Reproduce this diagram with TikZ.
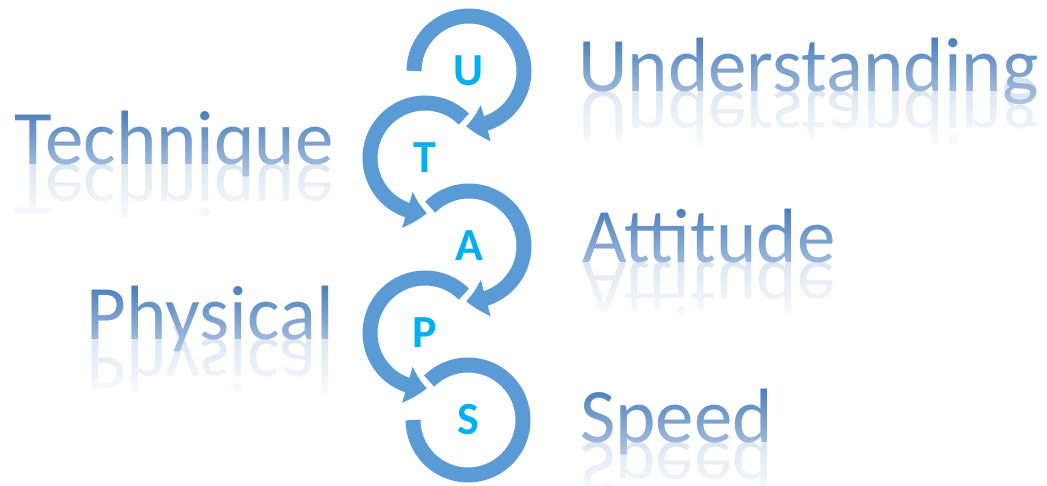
\documentclass[tikz,border=0pt]{standalone}
\usepackage{fontspec}
\setmainfont{Carlito}
\usetikzlibrary{arrows.meta,fadings,bending}
\definecolor{ring}{HTML}{5B9BD5}
\definecolor{letter}{HTML}{00B0F0}
\definecolor{word}{HTML}{3D75B8}
\tikzfading[name=wordfade, top color=transparent!100, middle color=transparent!65, bottom color=transparent!0]
\begin{document}
\begin{tikzpicture}[x=1pt,y=1pt,
  ringarc/.style={draw=ring, line width=15pt},
  ringarrow/.style={ringarc, -{Triangle[width=36pt,length=20pt,bend]}},
  letterlbl/.style={font=\bfseries\fontsize{46}{46}\selectfont, text=letter, inner sep=0pt},
  wordlbl/.style={font=\fontsize{77}{77}\selectfont, text=word, inner sep=0pt},
  refllbl/.style={wordlbl, opacity=0.35, transform shape},
  fadebox/.style={fill=white, path fading=wordfade}]
\useasboundingbox (0,0) rectangle (1047,486);
% circle centres
\coordinate (cU) at (469,415);
\coordinate (cT) at (425,328);
\coordinate (cA) at (469,240);
\coordinate (cP) at (425,153);
\coordinate (cS) at (468,66);
% arcs
\draw[ringarrow] (cU) ++(180:55) arc[start angle=180, end angle=-93, radius=55];
\draw[ringarrow] (cT) ++(45:55) arc[start angle=45, end angle=272, radius=55];
\draw[ringarrow] (cA) ++(135:55) arc[start angle=135, end angle=-93, radius=55];
\draw[ringarrow] (cP) ++(45:55) arc[start angle=45, end angle=272, radius=55];
\draw[ringarc] (cS) ++(135:55) arc[start angle=135, end angle=-180, radius=55];
% letters
\node[letterlbl] (U) at (cU) {U};
\node[letterlbl] (T) at (cT) {T};
\node[letterlbl] (A) at (cA) {A};
\node[letterlbl] (P) at (cP) {P};
\node[letterlbl] (S) at (cS) {S};
% reflections
\begin{scope}[shift={(578,394)}, yscale=-1]
  \node[refllbl, anchor=base west] (rUnd) at (0,0) {Understanding};
\end{scope}
\begin{scope}[shift={(334,321)}, yscale=-1]
  \node[refllbl, anchor=base east] (rTec) at (0,0) {Technique};
\end{scope}
\begin{scope}[shift={(582,223)}, yscale=-1]
  \node[refllbl, anchor=base west] (rAtt) at (0,0) {Attitude};
\end{scope}
\begin{scope}[shift={(334,146)}, yscale=-1]
  \node[refllbl, anchor=base east] (rPhy) at (0,0) {Physical};
\end{scope}
\begin{scope}[shift={(580,43)}, yscale=-1]
  \node[refllbl, anchor=base west] (rSpe) at (0,0) {Speed};
\end{scope}
% words
\node[wordlbl, anchor=base west] (Und) at (578,394) {Understanding};
\node[wordlbl, anchor=base east] (Tec) at (334,321) {Technique};
\node[wordlbl, anchor=base west] (Att) at (582,223) {Attitude};
\node[wordlbl, anchor=base east] (Phy) at (334,146) {Physical};
\node[wordlbl, anchor=base west] (Spe) at (580,43) {Speed};
% gradient / reflection fades
\fill[fadebox] (570,394+64) rectangle (1047,394-64);
\fill[fadebox] (0,321+64) rectangle (345,321-64);
\fill[fadebox] (570,223+64) rectangle (860,223-64);
\fill[fadebox] (60,146+64) rectangle (345,146-64);
\fill[fadebox] (570,43+64) rectangle (800,43-64);
\end{tikzpicture}
\end{document}
